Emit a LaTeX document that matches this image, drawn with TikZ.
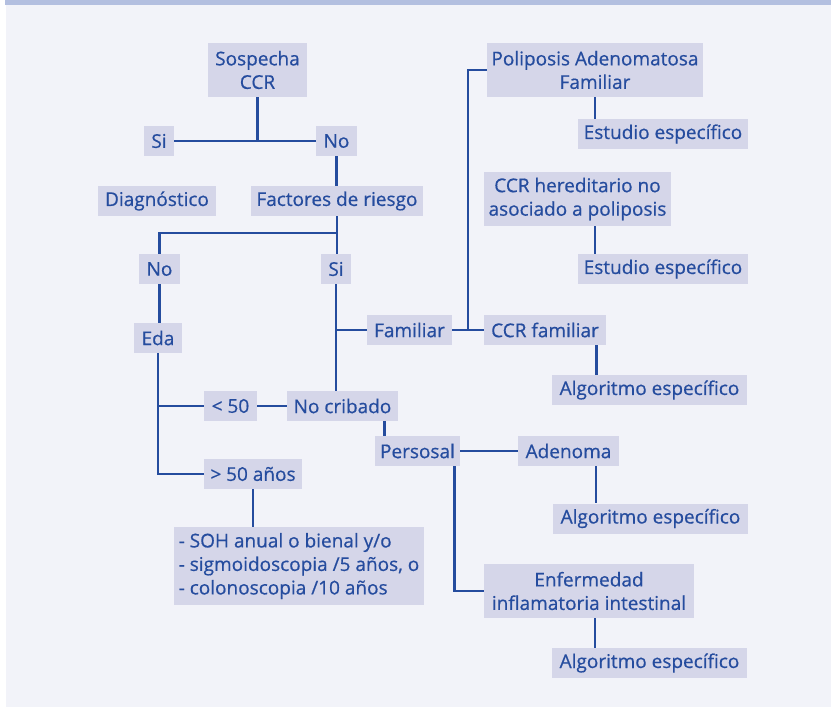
\documentclass[tikz,border=0pt]{standalone}
\usepackage{fontspec}
\setmainfont{Open Sans}[UprightFeatures={FakeBold=0.6}]
\usetikzlibrary{calc}
\definecolor{panelbg}{HTML}{F2F3F9}
\definecolor{bandc}{HTML}{B3BFE0}
\definecolor{boxc}{HTML}{D5D6E9}
\definecolor{inkc}{HTML}{254C9E}
\tikzset{
  bx/.style={fill=boxc, draw=none, text=inkc, inner sep=0pt, align=center,
     font=\fontsize{19}{23.5}\selectfont},
  wire/.style={draw=inkc, line width=2.8pt}
}
\newcommand{\bxn}[6]{\node[bx, minimum width=#4pt, minimum height=#5pt] (#1) at (#2,#3) {#6};}
\begin{document}
\begin{tikzpicture}[x=1pt,y=-1pt]
\useasboundingbox (0,0) rectangle (831,707);
\fill[white] (0,0) rectangle (831,707);
\fill[panelbg] (6,0) rectangle (831,707);
\fill[bandc] (5,0) rectangle (831,5);

\bxn{sosp}{257.5}{70}{99}{54}{Sospecha\\CCR}
\bxn{si1}{159}{141}{30}{30}{Si}
\bxn{no1}{336.5}{141}{41}{30}{No}
\bxn{diag}{157}{201}{118}{30}{Diagnóstico}
\bxn{fact}{337}{201}{172}{30}{Factores de riesgo}
\bxn{no2}{159.5}{269}{41}{30}{No}
\bxn{si2}{336}{269}{30}{30}{Si}
\bxn{eda}{158}{338}{48}{30}{Eda}
\bxn{fam}{409.5}{330}{85}{30}{Familiar}
\bxn{ccrfam}{545}{330}{122}{30}{CCR familiar}
\bxn{alg1}{649.5}{390}{195}{30}{Algoritmo específico}
\bxn{lt50}{230.5}{406}{53}{30}{< 50}
\bxn{nocrib}{342.5}{406}{111}{30}{No cribado}
\bxn{pers}{417.5}{451}{85}{30}{Persosal}
\bxn{aden}{568.5}{451}{101}{30}{Adenoma}
\bxn{alg2}{650.5}{518.5}{195}{30}{Algoritmo específico}
\bxn{gt50}{253}{474}{98}{30}{> 50 años}
\node[bx, minimum width=250pt, minimum height=78pt, align=left] (list) at (299,566)
  {- SOH anual o bienal y/o\\- sigmoidoscopia /5 años, o\\- colonoscopia /10 años};
\bxn{poli}{595}{70}{216}{54}{Poliposis Adenomatosa\\Familiar}
\bxn{est1}{663}{134}{170}{30}{Estudio específico}
\bxn{ccrh}{577.5}{199}{187}{54}{CCR hereditario no\\asociado a poliposis}
\bxn{est2}{663}{269}{170}{30}{Estudio específico}
\bxn{enf}{589}{591}{210}{54}{Enfermedad\\inflamatoria intestinal}
\bxn{alg3}{649.5}{663}{195}{30}{Algoritmo específico}

\coordinate (j1) at (337,233);
\coordinate (j2) at ($(fam.east)!0.5!(ccrfam.west)$);

\draw[wire] (si1.east) -- (no1.west);
\draw[wire] (sosp.south) -- (sosp.south |- si1.east);
\draw[wire] (no1.south) -- (no1.south |- fact.north);
\draw[wire] (fact.south) -- (fact.south |- si2.north);
\draw[wire] (no2.north) |- (j1);
\draw[wire] (no2.south) -- (no2.south |- eda.north);
\draw[wire] (eda.south) |- (gt50.west);
\draw[wire] (lt50.west) -- (eda.south |- lt50.west);
\draw[wire] (lt50.east) -- (nocrib.west);
\draw[wire] (si2.south) -- (si2.south |- nocrib.north);
\draw[wire] (fam.west) -- (si2.south |- fam.west);
\draw[wire] (fam.east) -- (ccrfam.west);
\draw[wire] (j2) |- (poli.west);
\draw[wire] ([xshift=-10pt]ccrfam.south east) -- ([xshift=-10pt]ccrfam.south east |- alg1.north);
\draw[wire] (poli.south) -- (poli.south |- est1.north);
\draw[wire] ([xshift=17.5pt]ccrh.south) -- ([xshift=17.5pt]ccrh.south |- est2.north);
\draw[wire] ([xshift=-14pt]nocrib.south east) -- ([xshift=-14pt]nocrib.south east |- pers.north);
\draw[wire] (pers.east) -- (aden.west);
\draw[wire] ([xshift=27.5pt]aden.south) -- ([xshift=27.5pt]aden.south |- alg2.north);
\draw[wire] ([xshift=-6pt]pers.south east) |- (enf.west);
\draw[wire] ([xshift=6pt]enf.south) -- ([xshift=6pt]enf.south |- alg3.north);
\draw[wire] (gt50.south) -- (gt50.south |- list.north);
\end{tikzpicture}
\end{document}
